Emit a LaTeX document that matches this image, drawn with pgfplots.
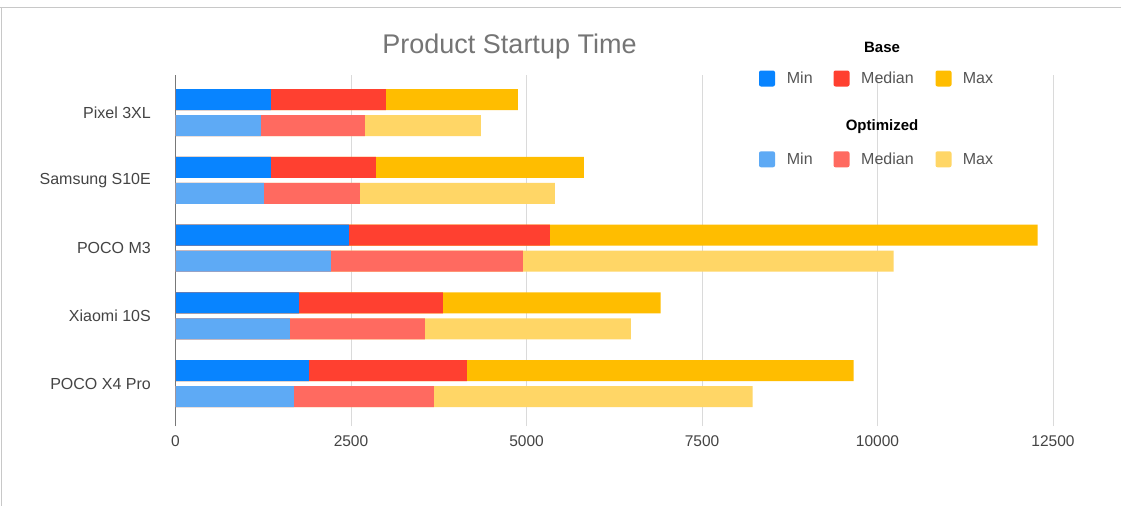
\documentclass[border=0pt]{standalone}
\usepackage{fontspec}
\setmainfont{Liberation Sans}
\usepackage{pgfplots}
\usepackage{pgfplotstable}
\pgfplotsset{compat=1.18}
\definecolor{bmin}{RGB}{8,132,255}
\definecolor{bmed}{RGB}{255,64,48}
\definecolor{bmax}{RGB}{255,189,0}
\definecolor{omin}{RGB}{94,170,245}
\definecolor{omed}{RGB}{255,106,96}
\definecolor{omax}{RGB}{255,214,102}
\definecolor{titlegray}{RGB}{117,117,117}
\definecolor{tickgray}{RGB}{68,68,68}
\definecolor{labgray}{RGB}{85,85,85}
\definecolor{gridgray}{RGB}{218,218,218}
\definecolor{axisgray}{RGB}{120,120,120}
\definecolor{bordergray}{RGB}{200,200,200}
% cumulative segment end points (ms)
\pgfplotstableread{
y bmin bmed bmax omin omed omax
4 1360 2997 4876 1217 2698 4349
3 1360 2854 5816 1260 2627 5403
2 2470 5332 12280 2214 4947 10229
1 1758 3808 6912 1630 3552 6485
0 1900 4150 9660 1687 3680 8220
}\datatable
\begin{document}
\begin{tikzpicture}
\path[use as bounding box, fill=white] (0bp,0bp) rectangle (1121bp,-506bp);
\draw[bordergray, line width=1bp] (0bp,-7bp) -- (1121bp,-7bp);
\draw[bordergray, line width=1bp] (1.5bp,-7bp) -- (1.5bp,-506bp);
\begin{axis}[
  at={(175.5bp,-426bp)}, anchor=south west,
  scale only axis, width=877.5bp, height=351bp,
  xmin=0, xmax=12500, ymin=-0.627, ymax=4.5535,
  xbar, bar width=21bp,
  axis x line*=bottom, axis y line*=left,
  x axis line style={draw=none},
  y axis line style={draw=axisgray, line width=1bp},
  major tick length=0pt,
  xtick={0,2500,5000,7500,10000,12500},
  xmajorgrids, grid style={draw=gridgray, line width=1bp},
  ytick={0,1,2,3,4},
  yticklabels={POCO X4 Pro, Xiaomi 10S, POCO M3, Samsung S10E, Pixel 3XL},
  scaled x ticks=false,
  /pgf/number format/1000 sep={},
  /pgf/number format/assume math mode=true,
  xticklabel style={anchor=center, yshift=-15bp, text=tickgray, font=\fontsize{15.5bp}{18bp}\selectfont},
  yticklabel style={anchor=east, inner sep=0pt, xshift=-24.5bp, text=labgray!80!black, font=\fontsize{16bp}{19bp}\selectfont},
  clip=false,
]
\addplot[fill=bmax, draw=none, bar shift=13bp] table[x=bmax, y=y] {\datatable};
\addplot[fill=bmed, draw=none, bar shift=13bp] table[x=bmed, y=y] {\datatable};
\addplot[fill=bmin, draw=none, bar shift=13bp] table[x=bmin, y=y] {\datatable};
\addplot[fill=omax, draw=none, bar shift=-13bp] table[x=omax, y=y] {\datatable};
\addplot[fill=omed, draw=none, bar shift=-13bp] table[x=omed, y=y] {\datatable};
\addplot[fill=omin, draw=none, bar shift=-13bp] table[x=omin, y=y] {\datatable};
\end{axis}
% title
\node[anchor=base, text=titlegray, font=\fontsize{27bp}{32bp}\selectfont, inner sep=0pt] at (509.5bp,-53bp) {Product Startup Time};
% legend
\node[anchor=base, font=\bfseries\fontsize{15bp}{18bp}\selectfont, inner sep=0pt] at (882bp,-52.7bp) {Base};
\node[anchor=base, font=\bfseries\fontsize{15bp}{18bp}\selectfont, inner sep=0pt] at (882bp,-130bp) {Optimized};
\begin{scope}[every node/.style={anchor=base west, inner sep=0pt, text=labgray, font=\fontsize{16bp}{19bp}\selectfont}]
\fill[bmin, rounded corners=2bp] (759bp,-70.5bp) rectangle (775bp,-86.5bp);
\node at (786.7bp,-83.3bp) {Min};
\fill[bmed, rounded corners=2bp] (833.5bp,-70.5bp) rectangle (849.5bp,-86.5bp);
\node at (861bp,-83.3bp) {Median};
\fill[bmax, rounded corners=2bp] (935.5bp,-70.5bp) rectangle (951.5bp,-86.5bp);
\node at (962.7bp,-83.3bp) {Max};
\fill[omin, rounded corners=2bp] (759bp,-151.3bp) rectangle (775bp,-167.3bp);
\node at (786.7bp,-164.1bp) {Min};
\fill[omed, rounded corners=2bp] (833.5bp,-151.3bp) rectangle (849.5bp,-167.3bp);
\node at (861bp,-164.1bp) {Median};
\fill[omax, rounded corners=2bp] (935.5bp,-151.3bp) rectangle (951.5bp,-167.3bp);
\node at (962.7bp,-164.1bp) {Max};
\end{scope}
\end{tikzpicture}
\end{document}
